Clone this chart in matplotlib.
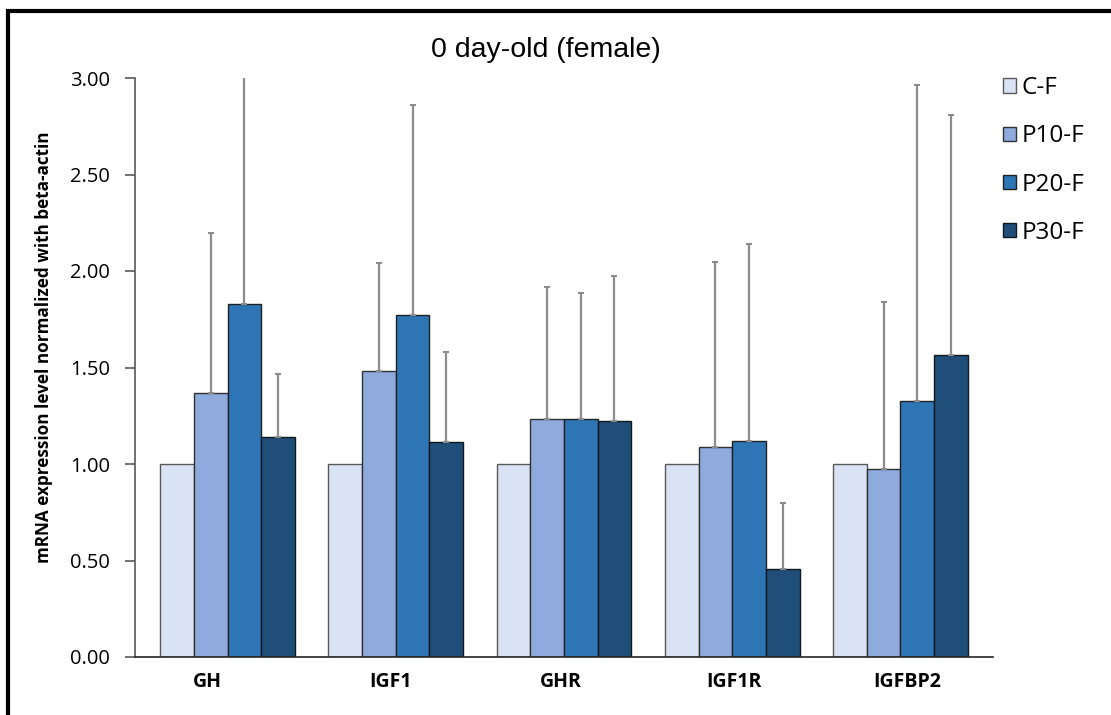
import numpy as np
import matplotlib
matplotlib.use("Agg")
import matplotlib.pyplot as plt
from matplotlib.patches import Rectangle

plt.rcParams['font.family'] = ['Open Sans', 'DejaVu Sans']

genes = ['GH', 'IGF1', 'GHR', 'IGF1R', 'IGFBP2']
groups = ['C-F', 'P10-F', 'P20-F', 'P30-F']

# mean relative expression per group (rows follow `groups`)
c_f = [1.00, 1.00, 1.00, 1.00, 1.00]
p10_f = [1.366, 1.483, 1.231, 1.087, 0.972]
p20_f = [1.827, 1.773, 1.231, 1.121, 1.328]
p30_f = [1.141, 1.114, 1.221, 0.454, 1.566]

# upper error (SD); C-F has none
c_f_err = [0, 0, 0, 0, 0]
p10_f_err = [0.831, 0.556, 0.688, 0.960, 0.867]
p20_f_err = [1.500, 1.085, 0.653, 1.019, 1.636]
p30_f_err = [0.325, 0.468, 0.753, 0.342, 1.241]

means = [c_f, p10_f, p20_f, p30_f]
errs = [c_f_err, p10_f_err, p20_f_err, p30_f_err]
colors = ['#DAE3F3', '#8FAADC', '#2E75B6', '#1F4E79']
edges = ['#595959', '#303030', '#202020', '#101820']

fig = plt.figure(figsize=(11.11, 7.15), dpi=100)
W, H = 1111, 715
ax = fig.add_axes([135 / W, 1 - 657 / H, (993 - 135) / W, (657 - 78) / H])

x = np.arange(len(genes))
width = 0.2
for i, (m, e) in enumerate(zip(means, errs)):
    pos = x - 0.3 + i * width
    ax.bar(pos, m, width, color=colors[i], edgecolor=edges[i], linewidth=1.0,
           label=groups[i], zorder=2)
    e = np.array(e)
    has = e > 0
    if has.any():
        ax.errorbar(pos[has], np.array(m)[has], yerr=[np.zeros(has.sum()), e[has]],
                    fmt='none', ecolor='#8c8c8c', elinewidth=1.6, capsize=2.5,
                    capthick=1.5, zorder=3)

ax.set_xlim(-0.55, 4.55)
ax.set_ylim(0, 3.0)
ticks = np.arange(0, 3.01, 0.5)
ax.set_yticks(ticks)
ax.set_yticklabels([f'{v:.2f}' for v in ticks], fontsize=14.5)

# gene labels sit slightly off the group centres
label_shift = [-0.12, -0.03, -0.02, 0.01, 0.04]
ax.set_xticks(x + np.array(label_shift))
ax.set_xticklabels(genes, fontsize=14, fontweight='bold')
ax.tick_params(axis='x', length=0, pad=11)
ax.tick_params(axis='y', length=7, width=1.2, color='#595959', pad=11)

for s in ['top', 'right']:
    ax.spines[s].set_visible(False)
ax.spines['left'].set_color('#595959')
ax.spines['left'].set_linewidth(1.2)
ax.spines['bottom'].set_color('#262626')
ax.spines['bottom'].set_linewidth(1.2)

ax.set_ylabel('mRNA expression level normalized with beta-actin',
              fontsize=12.3, fontweight='bold')
ax.yaxis.set_label_coords((53 - 135) / 858, (657 - 347) / 579)

fig.text(546 / W, 1 - 50 / H, '0 day-old (female)', fontsize=20.5,
         family='Liberation Sans', ha='center', va='center')

fig.legend(loc='upper left', bbox_to_anchor=(1003 / W, 1 - 76 / H),
           frameon=False, fontsize=17.5, handlelength=0.53, handleheight=0.53,
           handletextpad=0.22, labelspacing=1.0, borderpad=0, borderaxespad=0)

# page frame around the figure
fig.add_artist(Rectangle((7.5 / W, -0.1), 1.2, 1 - 10.5 / H + 0.1,
                         transform=fig.transFigure, fill=False,
                         edgecolor='black', linewidth=3))

fig.savefig('out.png', dpi=100)
